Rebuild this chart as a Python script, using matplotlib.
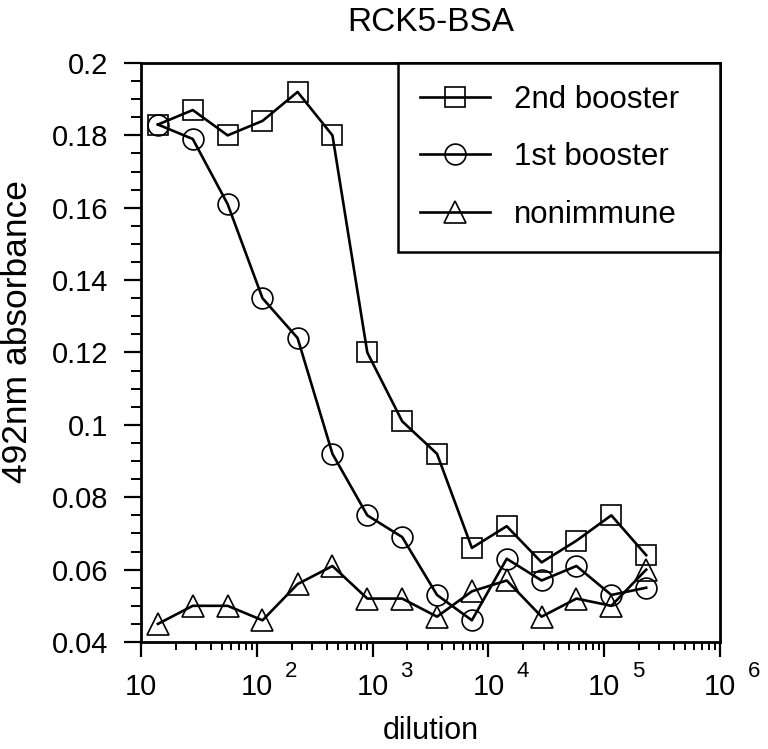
import matplotlib
matplotlib.use('Agg')
import matplotlib.pyplot as plt
from matplotlib.ticker import FixedLocator, LogLocator, MultipleLocator, FuncFormatter, NullFormatter

plt.rcParams['font.family'] = ['Liberation Sans', 'DejaVu Sans']

# ELISA titration of RCK5-BSA
dilution = [14, 28, 56, 112, 225, 450, 900, 1800, 3600, 7200,
            14400, 28800, 57600, 115200, 230400]
second_booster = [0.183, 0.187, 0.180, 0.184, 0.192, 0.180, 0.120, 0.101,
                  0.092, 0.066, 0.072, 0.062, 0.068, 0.075, 0.064]
first_booster = [0.183, 0.179, 0.161, 0.135, 0.124, 0.092, 0.075, 0.069,
                 0.053, 0.046, 0.063, 0.057, 0.061, 0.053, 0.055]
nonimmune = [0.045, 0.050, 0.050, 0.046, 0.056, 0.061, 0.052, 0.052,
             0.047, 0.054, 0.057, 0.047, 0.052, 0.050, 0.060]
series_labels = ['2nd booster', '1st booster', 'nonimmune']
decades = [1, 2, 3, 4, 5, 6]

fig = plt.figure(figsize=(7.68, 7.49), dpi=100)
ax = fig.add_axes([141 / 768, 107 / 749, 579 / 768, 579 / 749])

style = dict(color='black', lw=1.9, markerfacecolor='none',
             markeredgecolor='black', markeredgewidth=1.2)
ax.plot(dilution, second_booster, marker='s', ms=14.5, label=series_labels[0], **style)
ax.plot(dilution, first_booster, marker='o', ms=15, label=series_labels[1], **style)
ax.plot(dilution, nonimmune, marker='^', ms=15.5, label=series_labels[2], **style)

ax.set_xscale('log')
ax.set_xlim(10, 1e6)
ax.set_ylim(0.04, 0.2)

# y axis
ax.yaxis.set_major_locator(MultipleLocator(0.02))
ax.yaxis.set_minor_locator(MultipleLocator(0.005))
ax.yaxis.set_major_formatter(FuncFormatter(lambda v, p: '%g' % round(v, 3)))

# x axis: "10" under each decade, exponent added separately
ax.xaxis.set_major_locator(FixedLocator([10.0 ** d for d in decades]))
ax.xaxis.set_minor_locator(LogLocator(base=10, subs=range(2, 10), numticks=20))
ax.xaxis.set_major_formatter(FuncFormatter(lambda v, p: '10'))
ax.xaxis.set_minor_formatter(NullFormatter())
for d in decades[1:]:
    ax.annotate(str(d), xy=(10.0 ** d, 0), xycoords=('data', 'axes fraction'),
                xytext=(20, -25), textcoords='offset points', fontsize=16,
                ha='left', va='baseline', annotation_clip=False)

for s in ax.spines.values():
    s.set_linewidth(2.0)
ax.tick_params(axis='y', which='major', direction='out', length=12.5, width=1.6,
               labelsize=21, pad=11)
ax.tick_params(axis='y', which='minor', direction='out', length=7, width=1.4)
ax.tick_params(axis='x', which='major', direction='out', length=11, width=1.6,
               labelsize=21, pad=11)
ax.tick_params(axis='x', which='minor', direction='out', length=6, width=1.4)

ax.set_title('RCK5-BSA', fontsize=24, pad=23)
ax.set_xlabel('dilution', fontsize=22)
ax.xaxis.set_label_coords(0.5, -0.128)
ax.set_ylabel('492nm absorbance', fontsize=25.5)
ax.yaxis.set_label_coords(-0.184, 0.537)

leg = ax.legend(loc='upper right', bbox_to_anchor=(0.4439, 0, 0.5561, 1),
                mode='expand', borderaxespad=0,
                fontsize=22.5, handlelength=2.25, handletextpad=0.75,
                borderpad=0.7, labelspacing=0.88, fancybox=False,
                framealpha=1, edgecolor='black')
leg.get_frame().set_linewidth(1.8)

fig.savefig('out.png', dpi=100)
